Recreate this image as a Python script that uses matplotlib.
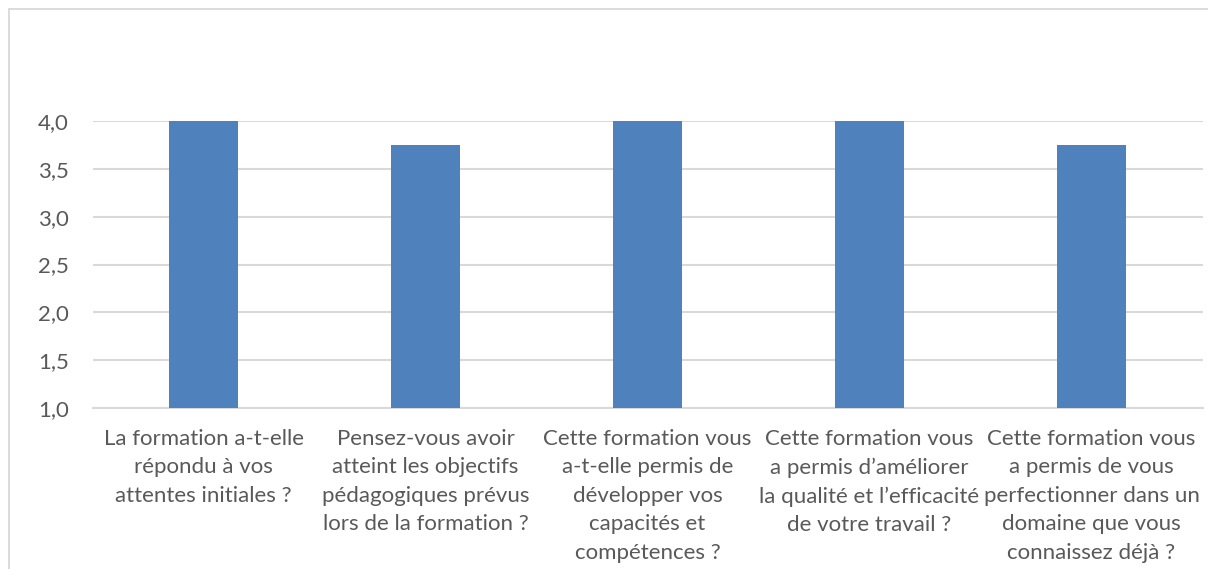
import matplotlib.pyplot as plt
from matplotlib.patches import Rectangle

questions = [
    "La formation a-t-elle\nrépondu à vos\nattentes initiales ?",
    "Pensez-vous avoir\natteint les objectifs\npédagogiques prévus\nlors de la formation ?",
    "Cette formation vous\na-t-elle permis de\ndévelopper vos\ncapacités et\ncompétences ?",
    "Cette formation vous\na permis d’améliorer\nla qualité et l’efficacité\nde votre travail ?",
    "Cette formation vous\na permis de vous\nperfectionner dans un\ndomaine que vous\nconnaissez déjà ?",
]
scores = [4.0, 3.75, 4.0, 4.0, 3.75]
yticks = [1.0, 1.5, 2.0, 2.5, 3.0, 3.5, 4.0]

plt.rcParams['font.family'] = ['Lato', 'DejaVu Sans']

W, H = 1208, 569
fig = plt.figure(figsize=(W / 100, H / 100), dpi=100)

# outer chart frame (cropped on the right and bottom)
fig.patches.append(Rectangle((9 / W, -0.1), 1.2, (H - 9) / H + 0.1,
                             transform=fig.transFigure, fill=False,
                             edgecolor='#d9d9d9', lw=1.3))

ax = fig.add_axes([92.5 / W, (H - 408) / H, 1110 / W, 287 / H])

x = range(len(questions))
ax.bar(x, [s - 1.0 for s in scores], bottom=1.0, width=0.31, color='#4f81bd', zorder=3)

ax.set_ylim(1.0, 4.0)
ax.set_xlim(-0.5, len(questions) - 0.5)
ax.set_yticks(yticks)
ax.set_yticklabels([f"{v:.1f}".replace('.', ',') for v in yticks], fontsize=16, color='#595959')
ax.set_xticks(list(x))
ax.set_xticklabels(questions, fontsize=16, color='#595959', linespacing=1.53)
ax.tick_params(axis='both', length=0)
ax.tick_params(axis='y', pad=17)
ax.tick_params(axis='x', pad=15)
ax.grid(axis='y', color='#d9d9d9', lw=1.5, zorder=0)
for s in ['top', 'right', 'left']:
    ax.spines[s].set_visible(False)
ax.spines['bottom'].set_color('#d9d9d9')
ax.spines['bottom'].set_linewidth(1.5)

fig.savefig('out.png', dpi=100)
